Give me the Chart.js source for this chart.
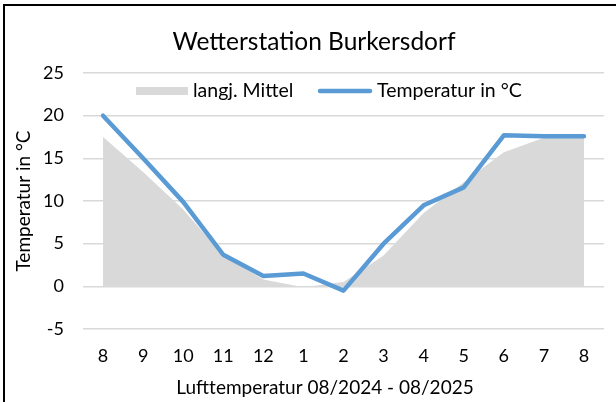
<!DOCTYPE html>
<html>
<head>
<meta charset="utf-8">
<script src="https://cdn.jsdelivr.net/npm/chart.js@4.4.1/dist/chart.umd.min.js"></script>
<style>
  html, body { margin: 0; padding: 0; background: #fff; }
  #wrap { position: relative; width: 616px; height: 402px; }
  canvas { display: block; }
</style>
</head>
<body>
<div id="wrap"><canvas id="c" width="616" height="402"></canvas></div>
<script>
const months = ['8', '9', '10', '11', '12', '1', '2', '3', '4', '5', '6', '7', '8'];
const temperature = [20.0, 15.0, 9.9, 3.7, 1.2, 1.5, -0.5, 5.0, 9.5, 11.6, 17.7, 17.6, 17.6];
const longTermMean = [17.5, 13.4, 9.0, 3.6, 0.8, -0.1, 0.5, 3.6, 8.6, 12.2, 15.7, 17.4, 17.4];
const yTicks = [-5, 0, 5, 10, 15, 20, 25];

const FONT = 'Lato, "Open Sans", sans-serif';
const BLUE = '#5b9bd5';
const GRAY = '#d9d9d9';

const legendLabels = ['langj. Mittel', 'Temperatur in °C'];
const xAxisTitle = 'Lufttemperatur 08/2024 - 08/2025';

const framePlugin = {
  id: 'frame',
  beforeDraw(chart) {
    const ctx = chart.ctx;
    ctx.save();
    ctx.fillStyle = '#ffffff';
    ctx.fillRect(0, 0, chart.width, chart.height);
    ctx.restore();
  },
  afterDraw(chart) {
    const ctx = chart.ctx;
    ctx.save();
    ctx.strokeStyle = '#000000';
    ctx.lineWidth = 2;
    ctx.beginPath();
    ctx.moveTo(4, chart.height);
    ctx.lineTo(4, 5);
    ctx.lineTo(chart.width, 5);
    ctx.stroke();
    // legend drawn over plot top like the Excel original
    const y = 91;
    ctx.fillStyle = GRAY;
    ctx.fillRect(136, y - 4, 52, 8);
    ctx.font = '19.5px ' + FONT;
    ctx.fillStyle = '#000';
    ctx.textBaseline = 'middle';
    ctx.textAlign = 'left';
    ctx.fillText(legendLabels[0], 193, y);
    ctx.strokeStyle = BLUE;
    ctx.lineWidth = 4.5;
    ctx.lineCap = 'round';
    ctx.beginPath();
    ctx.moveTo(320, y);
    ctx.lineTo(370, y);
    ctx.stroke();
    ctx.fillText(legendLabels[1], 377, y);
    // category axis title (Excel centres it slightly left of the plot centre)
    ctx.font = '19px ' + FONT;
    ctx.textAlign = 'center';
    ctx.fillText(xAxisTitle, 325, 388);
    ctx.restore();
  }
};

new Chart(document.getElementById('c'), {
  type: 'line',
  data: {
    labels: months,
    datasets: [
      {
        label: legendLabels[1],
        data: temperature,
        borderColor: BLUE,
        borderWidth: 4.5,
        borderCapStyle: 'round',
        borderJoinStyle: 'round',
        pointRadius: 0,
        fill: false,
        tension: 0,
        order: 0
      },
      {
        label: legendLabels[0],
        data: longTermMean,
        borderWidth: 0,
        borderColor: 'rgba(0,0,0,0)',
        backgroundColor: GRAY,
        pointRadius: 0,
        fill: 'origin',
        tension: 0,
        order: 1
      }
    ]
  },
  options: {
    responsive: false,
    animation: false,
    devicePixelRatio: 1,
    layout: { padding: { left: 24, right: 12, top: 0, bottom: 0 } },
    plugins: {
      legend: { display: false },
      tooltip: { enabled: false },
      title: {
        display: true,
        text: 'Wetterstation Burkersdorf',
        color: '#000',
        font: { family: FONT, size: 24.5, weight: 'normal', lineHeight: 1.2 },
        padding: { top: 27.8, bottom: 15.8 }
      }
    },
    scales: {
      x: {
        offset: true,
        grid: { display: false, drawTicks: false },
        border: { display: false },
        ticks: { color: '#000', font: { family: FONT, size: 18 }, padding: 16, maxRotation: 0, autoSkip: false },
        title: { display: false },
        afterFit(scale) { scale.height = 73; }
      },
      y: {
        min: -5,
        max: 25,
        afterBuildTicks(scale) { scale.ticks = yTicks.map(v => ({ value: v })); },
        grid: { color: GRAY, lineWidth: 1.5, drawTicks: false },
        border: { display: false },
        ticks: { color: '#000', font: { family: FONT, size: 18 }, padding: 19 },
        title: {
          display: true,
          text: 'Temperatur in °C',
          color: '#000',
          font: { family: FONT, size: 19, lineHeight: 1.2 },
          padding: { top: -12, bottom: 0 }
        },
        afterFit(scale) { scale.width = 59; }
      }
    }
  },
  plugins: [framePlugin]
});
</script>
</body>
</html>
